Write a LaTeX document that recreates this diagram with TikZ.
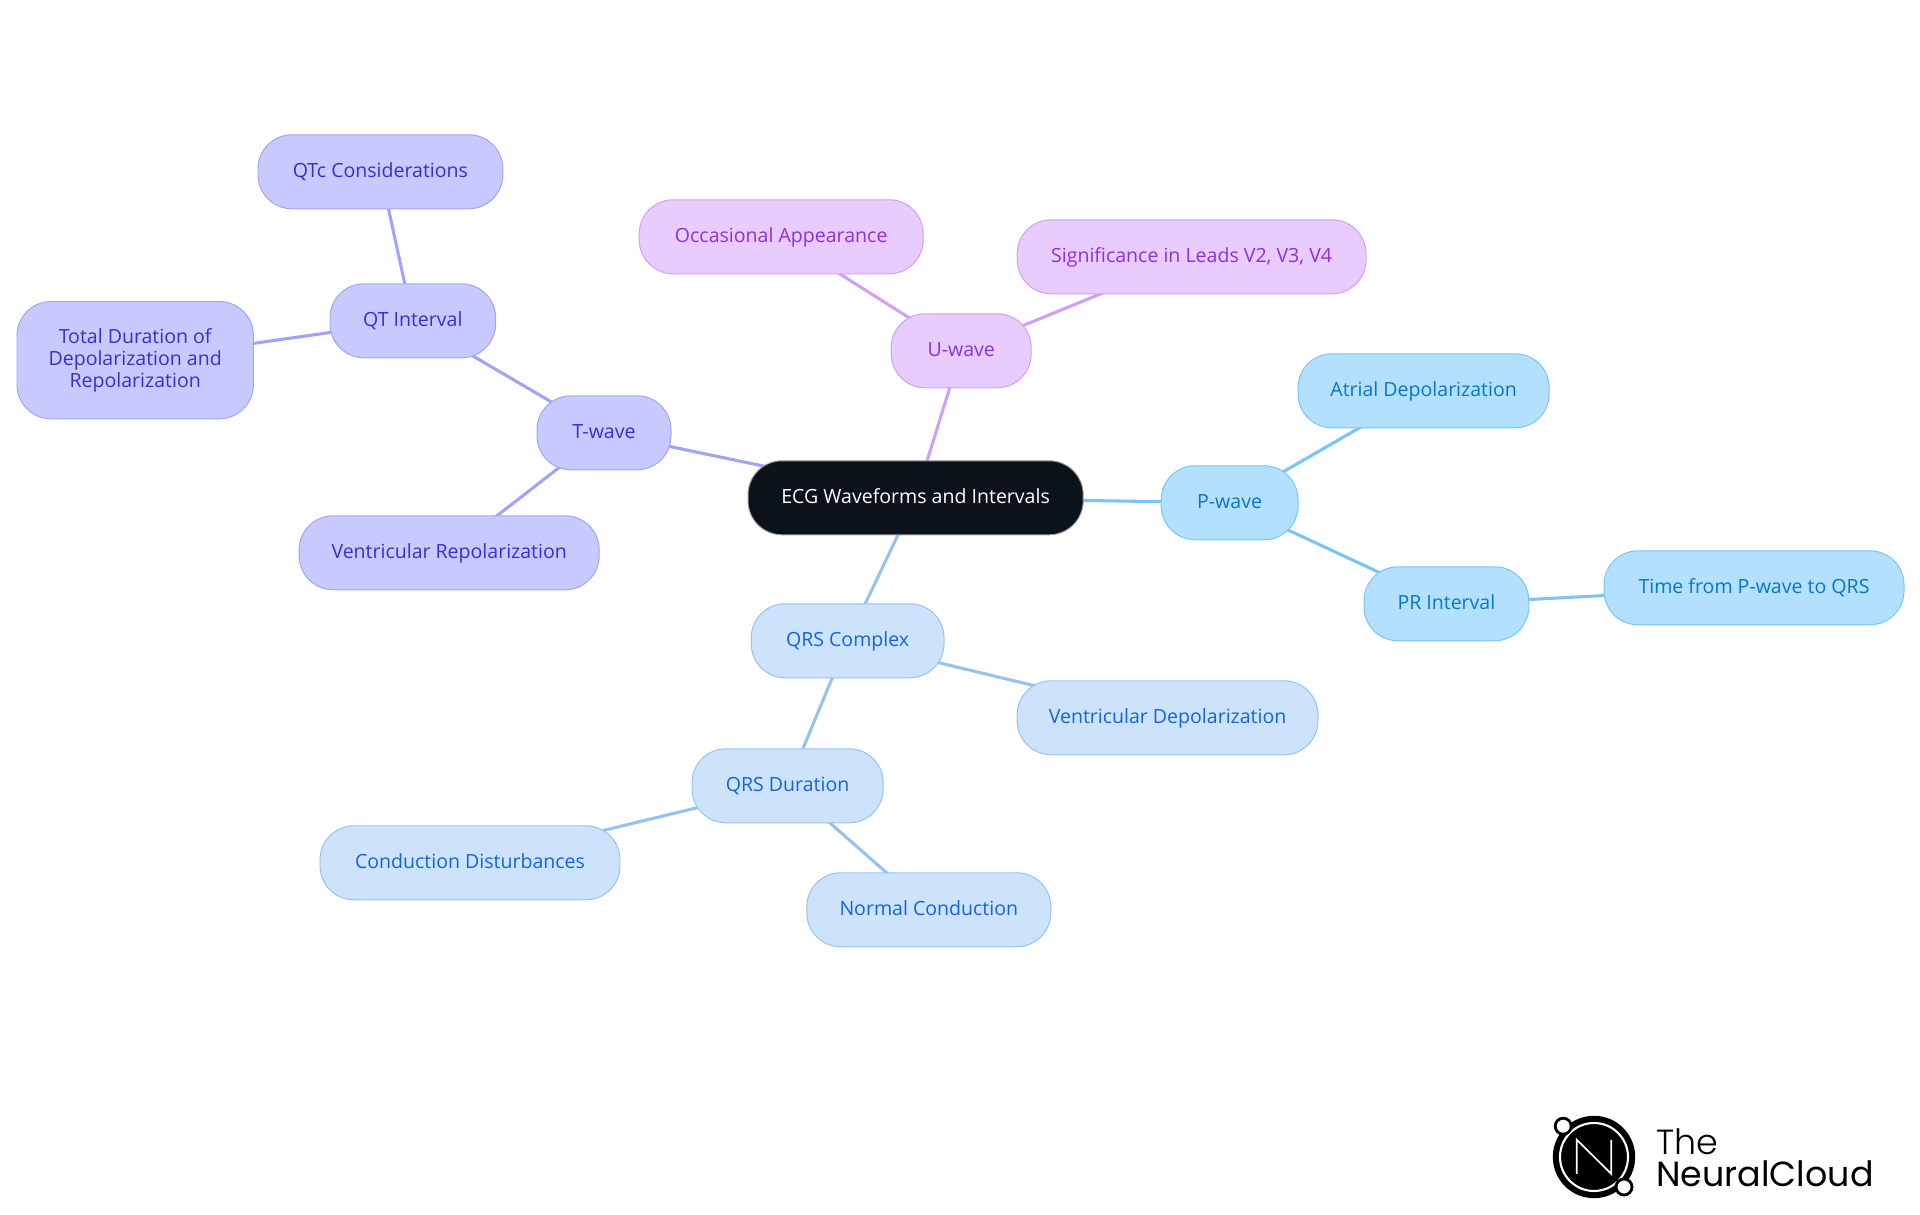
\documentclass[tikz,border=0pt]{standalone}
\usepackage{xcolor}
\usepackage{fontspec}
\setsansfont{Open Sans}
\newfontfamily\logofont{Poppins}
\newfontfamily\logolight{Poppins Light}
\usetikzlibrary{backgrounds}
\definecolor{Ink}{HTML}{0C121A}
\definecolor{RimGray}{HTML}{9A9DA1}
\definecolor{SkyFill}{HTML}{B3E0FF}
\definecolor{SkyLine}{HTML}{7AC4F7}
\definecolor{SkyText}{HTML}{0877C9}
\definecolor{BlueFill}{HTML}{CDE3FC}
\definecolor{BlueLine}{HTML}{96C2F2}
\definecolor{BlueText}{HTML}{1565D8}
\definecolor{IndigoFill}{HTML}{C8CAFF}
\definecolor{IndigoLine}{HTML}{A1A4F4}
\definecolor{IndigoText}{HTML}{3730D0}
\definecolor{PurpleFill}{HTML}{E8CCFF}
\definecolor{PurpleLine}{HTML}{CFA1F5}
\definecolor{PurpleText}{HTML}{9030D8}

\begin{document}
\begin{tikzpicture}[
  font=\sffamily\fontsize{13.9pt}{15.5pt}\selectfont,
  topic/.style={rounded corners=0.85cm, line width=0.7pt, align=center, inner sep=0pt, minimum height=1.85cm, text height=0.39cm, text depth=0.11cm},
  rootnode/.style={topic, draw=RimGray, fill=Ink, text=white},
  skynode/.style={topic, draw=SkyLine, fill=SkyFill, text=SkyText},
  bluenode/.style={topic, draw=BlueLine, fill=BlueFill, text=BlueText},
  indigonode/.style={topic, draw=IndigoLine, fill=IndigoFill, text=IndigoText},
  purplenode/.style={topic, draw=PurpleLine, fill=PurpleFill, text=PurpleText},
  skylink/.style={line width=2.2pt, draw=SkyLine},
  bluelink/.style={line width=2.2pt, draw=BlueLine},
  indigolink/.style={line width=2.2pt, draw=IndigoLine},
  purplelink/.style={line width=2.2pt, draw=PurpleLine}
]
\useasboundingbox (0,0.02) rectangle (48,30.395);
\node[rootnode, minimum width=8.38cm] (ecg) at (22.89,17.95) {ECG Waveforms and Intervals};
\node[skynode, minimum width=3.42cm] (pwave) at (30.74,17.825) {P-wave};
\node[skynode, minimum width=6.28cm] (atrial) at (35.59,20.625) {Atrial Depolarization};
\node[skynode, minimum width=4.12cm] (printerval) at (36.16,15.30) {PR Interval};
\node[skynode, minimum width=7.5cm] (ptoqrs) at (43.85,15.70) {Time from P-wave to QRS};
\node[bluenode, minimum width=4.82cm] (qrs) at (21.19,14.375) {QRS Complex};
\node[bluenode, minimum width=7.52cm] (ventdep) at (29.19,12.45) {Ventricular Depolarization};
\node[bluenode, minimum width=4.78cm] (qrsdur) at (19.69,10.75) {QRS Duration};
\node[bluenode, minimum width=7.5cm] (conduct) at (11.75,8.825) {Conduction Disturbances};
\node[bluenode, minimum width=6.1cm] (normal) at (23.22,7.65) {Normal Conduction};
\node[indigonode, minimum width=3.35cm] (twave) at (15.10,19.575) {T-wave};
\node[indigonode, minimum width=7.5cm] (ventrep) at (11.23,16.575) {Ventricular Repolarization};
\node[indigonode, minimum width=4.14cm] (qtint) at (10.32,22.375) {QT Interval};
\node[indigonode, minimum width=6.12cm] (qtc) at (9.51,26.10) {QTc Considerations};
\node[indigonode, minimum width=5.91cm, minimum height=2.93cm, text height=, text depth=] (total) at (3.38,21.39) {Total Duration of\\Depolarization and\\Repolarization};
\node[purplenode, minimum width=3.5cm] (uwave) at (24.03,21.625) {U-wave};
\node[purplenode, minimum width=7.1cm] (occas) at (19.53,24.475) {Occasional Appearance};
\node[purplenode, minimum width=8.72cm] (leads) at (29.79,23.975) {Significance in Leads V2, V3, V4};
\begin{pgfonlayer}{background}
\draw[skylink] (ecg.center) -- (pwave.center);
\draw[skylink] (pwave.center) -- (atrial.center);
\draw[skylink] (pwave.center) -- (printerval.center);
\draw[skylink] (printerval.center) -- (ptoqrs.center);
\draw[bluelink] (ecg.center) -- (qrs.center);
\draw[bluelink] (qrs.center) -- (ventdep.center);
\draw[bluelink] (qrs.center) -- (qrsdur.center);
\draw[bluelink] (qrsdur.center) -- (conduct.center);
\draw[bluelink] (qrsdur.center) -- (normal.center);
\draw[indigolink] (ecg.center) -- (twave.center);
\draw[indigolink] (twave.center) -- (ventrep.center);
\draw[indigolink] (twave.center) -- (qtint.center);
\draw[indigolink] (qtint.center) -- (qtc.center);
\draw[indigolink] (qtint.center) -- (total.center);
\draw[purplelink] (ecg.center) -- (uwave.center);
\draw[purplelink] (uwave.center) -- (occas.center);
\draw[purplelink] (uwave.center) -- (leads.center);
\end{pgfonlayer}
% logo
\fill[black] (39.85,1.47) circle (1.03);
\draw[white, line width=1.5pt] (39.85,1.47) circle (0.85);
\draw[white, line width=1.2pt] (39.42,1.05) -- (39.42,1.9) -- (40.28,1.05) -- (40.28,1.9);
\draw[black, fill=white, line width=2pt] (39.08,2.24) circle (0.2);
\draw[black, fill=white, line width=2pt] (40.6,0.72) circle (0.2);
\node[anchor=base west, inner sep=0pt, font=\logolight\fontsize{24.8pt}{24.8pt}\selectfont, text=black] (logoa) at (41.4,1.54) {The};
\node[anchor=base west, inner sep=0pt, font=\logofont\fontsize{24.8pt}{24.8pt}\selectfont, text=black] (logob) at (41.4,0.74) {NeuralCloud};
\end{tikzpicture}
\end{document}
